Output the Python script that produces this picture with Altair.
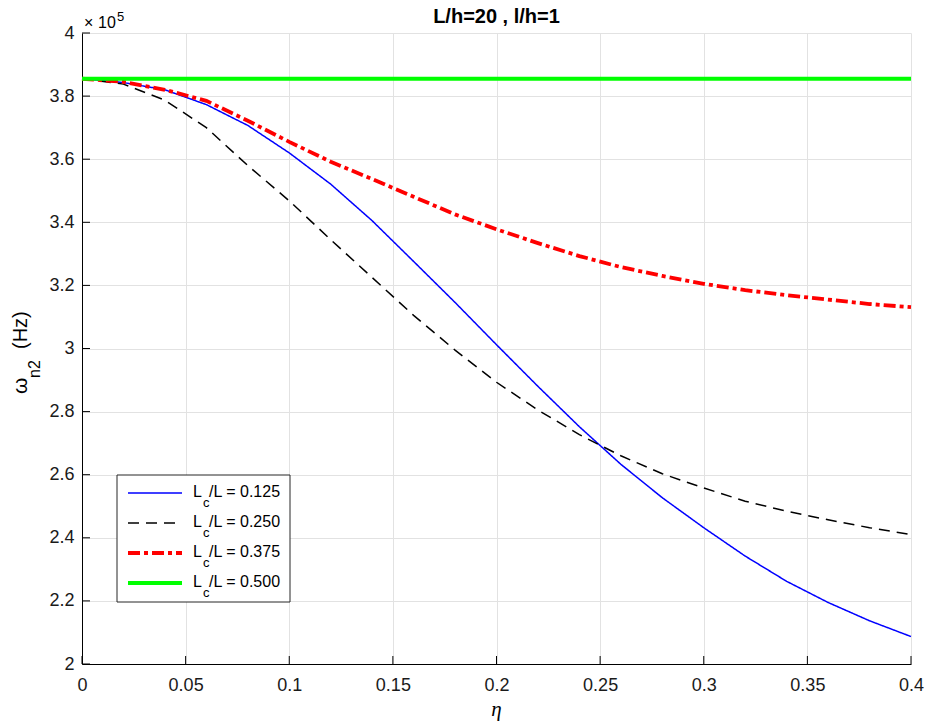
import altair as alt
import pandas as pd

# ---- data (omega_n2 in units of 1e5 Hz) ----
eta = [0.00, 0.02, 0.04, 0.06, 0.08, 0.10, 0.12, 0.14, 0.16, 0.18, 0.20,
       0.22, 0.24, 0.26, 0.28, 0.30, 0.32, 0.34, 0.36, 0.38, 0.40]
w_0125 = [3.855, 3.843, 3.820, 3.773, 3.707, 3.620, 3.521, 3.405, 3.276, 3.146, 3.012,
          2.880, 2.752, 2.633, 2.527, 2.432, 2.342, 2.262, 2.195, 2.137, 2.087]
w_0250 = [3.855, 3.838, 3.787, 3.700, 3.580, 3.468, 3.345, 3.225, 3.105, 2.995, 2.893,
          2.805, 2.727, 2.660, 2.603, 2.558, 2.516, 2.484, 2.457, 2.432, 2.410]
w_0375 = [3.855, 3.845, 3.820, 3.785, 3.722, 3.655, 3.592, 3.537, 3.481, 3.425, 3.378,
          3.334, 3.293, 3.258, 3.230, 3.205, 3.185, 3.169, 3.155, 3.141, 3.131]
w_0500 = [3.855, 3.855, 3.855, 3.855, 3.855, 3.855, 3.855, 3.855, 3.855, 3.855, 3.855,
          3.855, 3.855, 3.855, 3.855, 3.855, 3.855, 3.855, 3.855, 3.855, 3.855]
series_labels = ["0.125", "0.250", "0.375", "0.500"]
x_ticks = [0, 0.05, 0.1, 0.15, 0.2, 0.25, 0.3, 0.35, 0.4]
y_ticks = [2, 2.2, 2.4, 2.6, 2.8, 3, 3.2, 3.4, 3.6, 3.8, 4]
title_text = "L/h=20 , l/h=1"

# ---- styles ----
colors = ["#0000ff", "#000000", "#ff0000", "#00ff00"]
widths = [1.5, 1.5, 3.8, 3.8]
dashes = [[1, 0], [11, 7], [12, 4, 4, 4], [1, 0]]

W, H = 829, 631
FONT = "Liberation Sans"

rows = []
for lab, vals in zip(series_labels, [w_0125, w_0250, w_0375, w_0500]):
    for e, v in zip(eta, vals):
        rows.append({"eta": e, "w": v, "series": lab})
df = pd.DataFrame(rows)

xscale = alt.Scale(domain=[0, 0.4], nice=False, zero=False)
yscale = alt.Scale(domain=[2, 4], nice=False, zero=False)

X = alt.X("eta:Q", scale=xscale, title=None,
          axis=alt.Axis(values=x_ticks, format="~g", labelPadding=12, grid=True, title=None,
                        labelFlush=False))
Y = alt.Y("w:Q", scale=yscale, title=None,
          axis=alt.Axis(values=y_ticks, format="~g", labelPadding=8, grid=True, title=None,
                        labelFlush=False))

base = alt.Chart(df).encode(x=X, y=Y)
layers = []
for lab, c, sw, d in zip(series_labels, colors, widths, dashes):
    layers.append(
        base.transform_filter(alt.datum.series == lab)
        .mark_line(color=c, strokeWidth=sw, strokeDash=d)
    )

# inward ticks
xt = alt.Chart(pd.DataFrame({"eta": x_ticks})).mark_rule(color="black", strokeWidth=1).encode(
    x=alt.X("eta:Q", scale=xscale, title=None), y=alt.value(H), y2=alt.value(H - 8))
yt = alt.Chart(pd.DataFrame({"w": y_ticks})).mark_rule(color="black", strokeWidth=1).encode(
    y=alt.Y("w:Q", scale=yscale, title=None), x=alt.value(0), x2=alt.value(8))
layers += [xt, yt]

dummy = pd.DataFrame({"k": [0]})

# legend
layers.append(alt.Chart(dummy).mark_rect(fill="white", stroke="#262626", strokeWidth=1).encode(
    x=alt.value(35), x2=alt.value(208), y=alt.value(442), y2=alt.value(569)))
for i, (lab, c, sw, d) in enumerate(zip(series_labels, colors, widths, dashes)):
    yc = 460 + 30 * i
    layers.append(alt.Chart(dummy).mark_rule(color=c, strokeWidth=sw, strokeDash=d).encode(
        x=alt.value(46), x2=alt.value(100), y=alt.value(yc)))
    layers.append(alt.Chart(dummy).mark_text(text="L", align="left", baseline="alphabetic",
                                             font=FONT, fontSize=16, color="black").encode(
        x=alt.value(111), y=alt.value(yc + 4)))
    layers.append(alt.Chart(dummy).mark_text(text="c", align="left", baseline="alphabetic",
                                             font=FONT, fontSize=13, color="black").encode(
        x=alt.value(121), y=alt.value(yc + 13.5)))
    layers.append(alt.Chart(dummy).mark_text(text="/L = " + lab, align="left", baseline="alphabetic",
                                             font=FONT, fontSize=16, color="black").encode(
        x=alt.value(127), y=alt.value(yc + 4)))

# title
layers.append(alt.Chart(dummy).mark_text(text=title_text, align="center", baseline="alphabetic",
                                         font=FONT, fontSize=20, fontWeight="bold", color="black").encode(
    x=alt.value(W / 2), y=alt.value(-10)))
# x10^5
layers.append(alt.Chart(dummy).mark_text(text="×", align="left", baseline="alphabetic",
                                         font=FONT, fontSize=16, color="black").encode(
    x=alt.value(2), y=alt.value(-5)))
layers.append(alt.Chart(dummy).mark_text(text="10", align="left", baseline="alphabetic",
                                         font=FONT, fontSize=16, color="black").encode(
    x=alt.value(16), y=alt.value(-5)))
layers.append(alt.Chart(dummy).mark_text(text="5", align="left", baseline="alphabetic",
                                         font=FONT, fontSize=13, color="black").encode(
    x=alt.value(35), y=alt.value(-12)))
# y title
layers.append(alt.Chart(dummy).mark_text(text="ω", align="left", baseline="alphabetic", angle=270,
                                         font=FONT, fontSize=21, color="black").encode(
    x=alt.value(-55), y=alt.value(361)))
layers.append(alt.Chart(dummy).mark_text(text="n2", align="left", baseline="alphabetic", angle=270,
                                         font=FONT, fontSize=16, color="black").encode(
    x=alt.value(-42), y=alt.value(345)))
layers.append(alt.Chart(dummy).mark_text(text="(Hz)", align="left", baseline="alphabetic", angle=270,
                                         font=FONT, fontSize=20, color="black").encode(
    x=alt.value(-55), y=alt.value(316)))
# x title
layers.append(alt.Chart(dummy).mark_text(text="η", align="center", baseline="alphabetic",
                                         font="Liberation Serif", fontStyle="italic", fontSize=21,
                                         color="black").encode(
    x=alt.value(W / 2), y=alt.value(683)))

chart = alt.layer(*layers).properties(
    width=W, height=H,
    autosize=alt.AutoSizeParams(type="none"),
    padding={"left": 82, "top": 33, "right": 25, "bottom": 62},
    background="white",
).configure_view(strokeWidth=0).configure_axis(
    ticks=False, tickSize=0, domainColor="black", domainWidth=1,
    gridColor="#e2e2e2", gridWidth=1,
    labelFont=FONT, labelFontSize=18, labelColor="#1a1a1a",
)

chart.save("out.html", embed_options={"renderer": "svg", "actions": False})
